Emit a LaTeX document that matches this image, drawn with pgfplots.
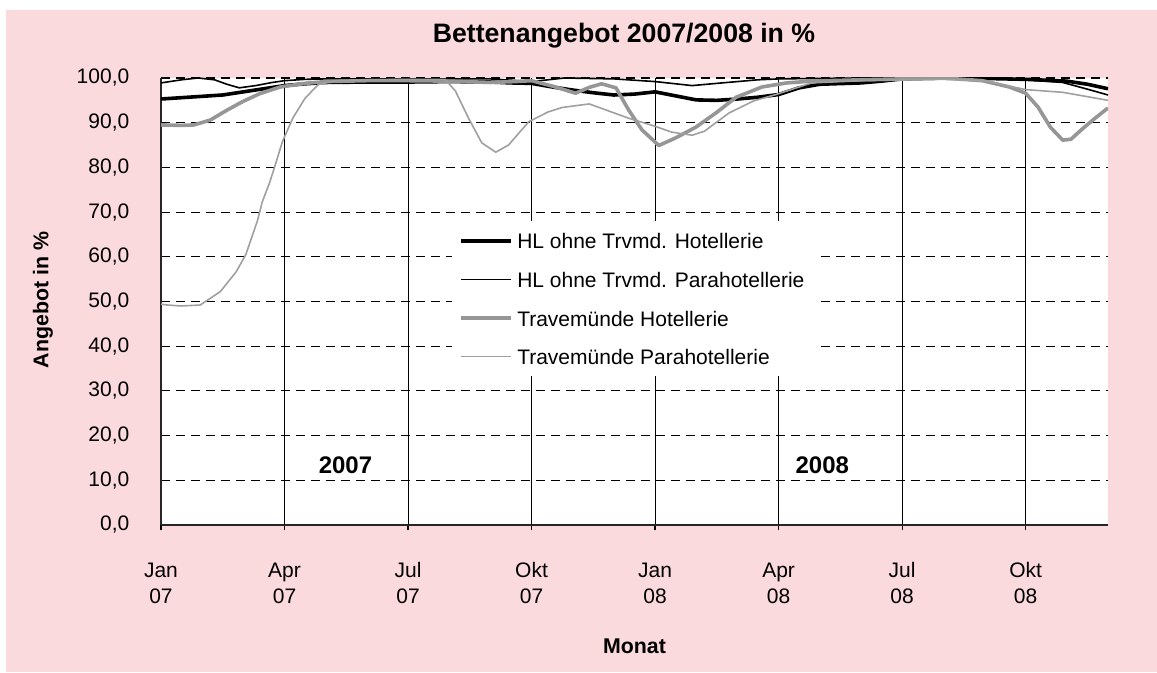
\documentclass[border=0pt]{standalone}
\usepackage{fontspec}
\setmainfont{Liberation Sans}
\usepackage{pgfplots}
\pgfplotsset{compat=1.18}

\definecolor{bgpink}{RGB}{251,218,221}
\definecolor{trgray}{RGB}{150,150,150}
\definecolor{trgraylt}{RGB}{160,160,160}

\newcommand{\tickfont}{\fontsize{15.75pt}{19.5pt}\selectfont}
\newcommand{\labfont}{\fontsize{16pt}{19pt}\selectfont\bfseries}
\newcommand{\yearfont}{\fontsize{18pt}{21pt}\selectfont\bfseries}
\newcommand{\titfont}{\fontsize{20pt}{24pt}\selectfont\bfseries}
% two-line month label with fixed line height
\newcommand{\ml}[2]{\strut#1\\\strut#2}

\begin{document}
\begin{tikzpicture}
% page and chart background
\fill[white] (0pt,0pt) rectangle (867.75pt,504pt);
\fill[bgpink] (4.5pt,0pt) rectangle (867.75pt,496.5pt);

\begin{axis}[
  at={(120.75pt,110.25pt)}, anchor=south west,
  scale only axis, width=710.25pt, height=335.25pt,
  xmin=0, xmax=23, ymin=0, ymax=100,
  axis lines=left,
  axis line style={-, line width=1.2pt, black!85},
  axis background/.style={fill=white},
  tick align=outside, major tick length=3.75pt,
  xtick={0,3,...,21},
  xticklabels={{\ml{Jan}{07}},{\ml{Apr}{07}},{\ml{Jul}{07}},{\ml{Okt}{07}},
               {\ml{Jan}{08}},{\ml{Apr}{08}},{\ml{Jul}{08}},{\ml{Okt}{08}}},
  xticklabel style={align=center, font=\tickfont, anchor=north, yshift=-18.5pt},
  x tick style={black, line width=0.9pt},
  ytick={0,10,...,100},
  y tick style={draw=none},
  yticklabel style={font=\tickfont, xshift=-16.5pt},
  /pgf/number format/.cd, fixed, fixed zerofill, precision=1, use comma, assume math mode=true,
  /pgfplots/.cd,
  xmajorgrids, ymajorgrids,
  x grid style={solid, black, line width=0.8pt},
  y grid style={black, line width=0.8pt, dash pattern=on 6.75pt off 4.5pt},
  legend style={at={(0.307,0.680)}, anchor=north west, draw=none, fill=white,
    inner xsep=5.25pt, inner ysep=3pt, row sep=5.8pt, font=\tickfont,
    nodes={inner xsep=3pt, inner ysep=4pt}},
  legend cell align=left,
  legend image code/.code={\draw[#1] (0pt,0pt) -- (38pt,0pt);},
]

% HL ohne Travemuende, Hotellerie
\addplot[black, line width=2.7pt, line join=round] coordinates {
(0,95.3)(0.5,95.6)(1,95.9)(1.5,96.2)(2,96.9)(2.5,97.6)(3,98.3)(3.5,98.7)(4,99.0)
(5,99.1)(6,99.1)(7,99.2)(8,99.1)(8.5,98.9)(9,98.8)(9.5,98.0)(10,97.3)(10.5,96.7)
(11,96.2)(11.5,96.4)(12,96.9)(12.5,96.0)(13,95.1)(13.5,95.0)(14,95.3)(14.5,95.7)
(15,96.3)(15.5,97.8)(16,98.6)(17,98.9)(17.5,99.3)(18,99.8)(19,100)(20,99.9)
(21,99.7)(21.5,99.5)(22,99.3)(22.5,98.6)(23,97.6)};
\addlegendentry{\strut HL ohne Trvmd. Hotellerie}

% HL ohne Travemuende, Parahotellerie
\addplot[black, line width=1.2pt, line join=round] coordinates {
(0,98.9)(0.5,99.6)(0.9,100)(1.3,99.6)(1.6,98.6)(1.9,97.8)(2.3,98.3)(2.7,99.0)
(3,99.4)(3.5,99.7)(4,99.8)(6,99.8)(8,99.8)(9,99.2)(9.8,100)(11,99.8)(12,99.2)
(12.9,98.3)(13.5,98.8)(14.5,99.6)(15,99.8)(17,100)(19,100)(20,99.9)(21,99.6)
(21.9,99.0)(22.5,97.5)(23,96.2)};
\addlegendentry{\strut HL ohne Trvmd. Parahotellerie}

% Travemuende, Hotellerie
\addplot[trgray, line width=2.7pt, line join=round] coordinates {
(0,89.5)(0.5,89.4)(0.8,89.5)(1.2,90.6)(1.6,92.8)(2,94.8)(2.4,96.5)(2.9,98.0)
(3.5,98.8)(4,99.2)(5,99.4)(6,99.4)(7,99.3)(8,99.0)(8.6,99.2)(9,99.4)(9.5,98.2)
(10.07,96.6)(10.4,97.9)(10.7,98.7)(11.05,97.8)(11.36,92.8)(11.68,88.4)(12.09,84.9)
(12.5,86.6)(12.99,89.0)(13.48,92.2)(13.97,95.7)(14.6,98.0)(15.2,98.9)(15.8,99.3)
(17,99.6)(18,99.8)(19,100)(19.95,99.4)(20.6,98.0)(21.0,96.6)(21.3,93.5)(21.6,89.0)
(21.9,86.1)(22.1,86.3)(22.4,88.8)(22.7,91.1)(23,93.3)};
\addlegendentry{\strut Travemünde Hotellerie}

% Travemuende, Parahotellerie
\addplot[trgraylt, line width=1.2pt, line join=round] coordinates {
(0,49.4)(0.17,49.2)(0.49,49.0)(0.95,49.2)(1.44,52.2)(1.83,56.7)(2.06,60.5)
(2.34,68.0)(2.46,72.3)(2.63,76.4)(2.75,79.8)(2.95,85.8)(3.2,91.0)(3.5,95.5)
(3.82,98.5)(4.23,99.4)(5,99.6)(6,99.7)(6.9,99.7)(7.15,97.1)(7.47,91.0)(7.79,85.5)
(8.13,83.4)(8.44,85.0)(8.93,90.2)(9.4,92.4)(9.74,93.4)(10.4,94.2)(11.36,91.0)
(12.0,89.2)(12.4,87.9)(12.9,87.2)(13.2,88.1)(13.8,92.2)(14.4,94.9)(14.9,96.2)
(15.8,98.9)(17,99.4)(19,99.7)(20,99.4)(21.0,97.4)(21.9,96.8)(23,95.0)};
\addlegendentry{\strut Travemünde Parahotellerie}

\node[font=\yearfont] at (axis cs:4.48,13.4) {2007};
\node[font=\yearfont] at (axis cs:16.06,13.4) {2008};
\end{axis}

% titles
\node[font=\titfont] at (468pt,477pt) {Bettenangebot 2007/2008 in \%};
\node[font=\labfont] at (475.9pt,19.5pt) {Monat};
\node[font=\labfont, rotate=90] at (32.25pt,279pt) {Angebot in \%};
\end{tikzpicture}
\end{document}
